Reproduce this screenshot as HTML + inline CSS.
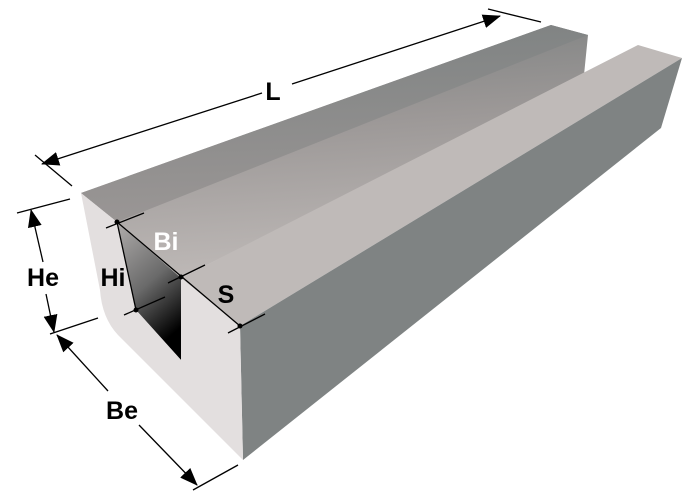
<!DOCTYPE html>
<html><head><style>html,body{margin:0;padding:0;background:#fff}svg{display:block}</style></head>
<body>
<svg width="690" height="502" viewBox="0 0 690 502" xmlns="http://www.w3.org/2000/svg">
<defs>
<linearGradient id="lt" x1="0" y1="0" x2="0.15" y2="1">
<stop offset="0" stop-color="#7b7f7f"/><stop offset="0.45" stop-color="#9c9897"/><stop offset="1" stop-color="#bdb8b6"/></linearGradient>
<linearGradient id="tp" x1="0" y1="0" x2="0.1" y2="1">
<stop offset="0" stop-color="#7e8282"/><stop offset="1" stop-color="#9a9695"/></linearGradient>
<linearGradient id="slot" x1="0" y1="0" x2="0.4" y2="1">
<stop offset="0" stop-color="#b0adac"/><stop offset="0.55" stop-color="#6a6a6a"/><stop offset="1" stop-color="#000"/></linearGradient>
<marker id="ar2" markerWidth="18" markerHeight="14" refX="17" refY="7" orient="auto-start-reverse" markerUnits="userSpaceOnUse">
<path d="M0,0 L18,7 L0,14 Z" fill="#000"/></marker>
</defs>
<polygon points="81,193 551,25 588,35 584,75 181,278 117,222" fill="url(#lt)"/>
<polygon points="81,193 551,25 588,35 117,222" fill="url(#tp)"/>
<polygon points="117,222 181,278 181,360 136,310" fill="url(#slot)"/>
<polygon points="181,278 638,45 682,58 240,326" fill="#bfbab8"/>
<polygon points="240,326 682,58 661,128 243,460" fill="#7f8383"/>
<path d="M81,193 L117,222 L136,310 L181,360 L181,278 L240,326 L243,460 L118,335 Q102,318 100,290 Z" fill="#e3dfdf"/>
<g stroke="#000" stroke-width="1.3" fill="none">
<line x1="35" y1="155" x2="72" y2="186"/>
<line x1="488" y1="9" x2="541" y2="22"/>
<line x1="42" y1="164" x2="262" y2="93" marker-start="url(#ar2)"/>
<line x1="292" y1="84" x2="500" y2="16" marker-end="url(#ar2)"/>
<line x1="17" y1="213" x2="70" y2="199"/>
<line x1="50" y1="334" x2="98" y2="318"/>
<line x1="31" y1="210" x2="43" y2="262" marker-start="url(#ar2)"/>
<line x1="46" y1="294" x2="54" y2="332" marker-end="url(#ar2)"/>
<line x1="57" y1="335" x2="108" y2="391" marker-start="url(#ar2)"/>
<line x1="139" y1="425" x2="197" y2="485" marker-end="url(#ar2)"/>
<line x1="193" y1="490" x2="238" y2="465"/>
<line x1="117" y1="222" x2="136" y2="310"/>
<line x1="117" y1="222" x2="240" y2="326"/>
<line x1="106" y1="228" x2="144" y2="213"/>
<line x1="168" y1="283" x2="205" y2="265"/>
<line x1="124" y1="315" x2="165" y2="297"/>
<line x1="228" y1="333" x2="265" y2="314"/>
</g>
<g fill="#000"><circle cx="117" cy="222" r="2.5"/><circle cx="181" cy="277" r="2.5"/><circle cx="136" cy="310" r="2.5"/><circle cx="240" cy="326" r="2.5"/></g>
<g font-family="Liberation Sans, sans-serif" font-weight="bold" font-size="25">
<text x="273" y="100" text-anchor="middle">L</text>
<text x="43" y="286" text-anchor="middle">He</text>
<text x="113" y="286" text-anchor="middle">Hi</text>
<text x="166" y="250" text-anchor="middle" fill="#fff">Bi</text>
<text x="226" y="303" text-anchor="middle">S</text>
<text x="122" y="419" text-anchor="middle">Be</text>
</g>
</svg>
</body></html>
